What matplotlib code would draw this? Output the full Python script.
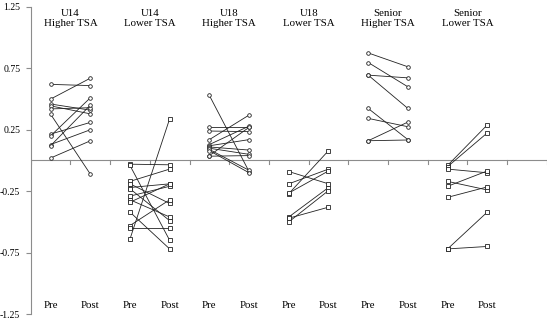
import matplotlib
matplotlib.use("Agg")
import matplotlib.pyplot as plt

# group titles (two lines each) and x-axis labels
groups = ["U14\nHigher TSA", "U14\nLower TSA", "U18\nHigher TSA",
          "U18\nLower TSA", "Senior\nHigher TSA", "Senior\nLower TSA"]
phase_labels = ["Pre", "Post"]
y_ticks = [-1.25, -0.75, -0.25, 0.25, 0.75, 1.25]

# paired values per athlete
u14_high_pre = [0.62, 0.50, 0.46, 0.445, 0.42, 0.378, 0.215, 0.20, 0.13, 0.12, 0.02]
u14_high_post = [0.61, 0.67, 0.41, 0.38, 0.43, -0.11, 0.31, 0.51, 0.25, 0.45, 0.16]

u14_low_pre = [-0.03, -0.04, -0.17, -0.19, -0.22, -0.23, -0.29, -0.32, -0.34,
               -0.42, -0.53, -0.55, -0.64]
u14_low_post = [-0.035, -0.65, -0.07, -0.35, -0.19, -0.49, -0.21, -0.46, -0.19,
                -0.72, -0.32, -0.55, 0.34]

u18_high_pre = [0.53, 0.275, 0.24, 0.17, 0.13, 0.12, 0.11, 0.10, 0.09, 0.08, 0.04, 0.035]
u18_high_post = [-0.09, 0.275, 0.235, 0.37, 0.28, 0.17, 0.085, 0.05, -0.08, -0.10, 0.27, 0.04]

u18_low_pre = [-0.09, -0.19, -0.27, -0.265, -0.46, -0.47, -0.50]
u18_low_post = [-0.19, -0.07, 0.08, -0.085, -0.22, -0.38, -0.245]

sen_high_pre = [0.876, 0.798, 0.695, 0.695, 0.424, 0.343, 0.161, 0.161]
sen_high_post = [0.763, 0.60, 0.673, 0.424, 0.17, 0.275, 0.313, 0.167]

sen_low_pre = [-0.04, -0.05, -0.07, -0.17, -0.21, -0.30, -0.72, -0.72]
sen_low_post = [0.29, 0.225, -0.10, -0.24, -0.085, -0.215, -0.42, -0.70]

pairs = [(u14_high_pre, u14_high_post, "o"), (u14_low_pre, u14_low_post, "s"),
         (u18_high_pre, u18_high_post, "o"), (u18_low_pre, u18_low_post, "s"),
         (sen_high_pre, sen_high_post, "o"), (sen_low_pre, sen_low_post, "s")]

plt.rcParams["font.family"] = "Liberation Serif"
axis_grey = "#8c8c8c"

fig = plt.figure(figsize=(5.5, 3.21), dpi=100)
ax = fig.add_axes([0.0558, 0.0218, 0.9385, 0.9564])

for i, (pre, post, mk) in enumerate(pairs):
    x0, x1 = 2 * i + 0.5, 2 * i + 1.5
    for a, b in zip(pre, post):
        ax.plot([x0, x1], [a, b], color="#222222", lw=0.6, marker=mk, ms=2.6,
                mfc="white", mec="#222222", mew=0.6, zorder=3)
    ax.text(2 * i + 1, 1.158, groups[i], ha="center", va="center",
            fontsize=7.8, linespacing=1.15)
    for j, lab in enumerate(phase_labels):
        ax.text(2 * i + 0.5 + j, -1.183, lab, ha="center", va="center", fontsize=7.8)

# zero line acting as category axis, with boundary ticks
ax.axhline(0, color=axis_grey, lw=0.8, zorder=1)
for k in range(14):
    ax.plot([k, k], [0, -0.025], color=axis_grey, lw=0.8, zorder=1)

ax.set_xlim(0, 13)
ax.set_ylim(-1.25, 1.25)
ax.set_xticks([])
ax.set_yticks(y_ticks)
ax.set_yticklabels([f"{t:.2f}" for t in y_ticks], fontsize=7)
for s in ["top", "right", "bottom"]:
    ax.spines[s].set_visible(False)
ax.spines["left"].set_color(axis_grey)
ax.spines["left"].set_linewidth(0.8)
ax.tick_params(axis="y", length=3.5, width=0.8, color=axis_grey, pad=4)

fig.savefig("out.png", dpi=100)
